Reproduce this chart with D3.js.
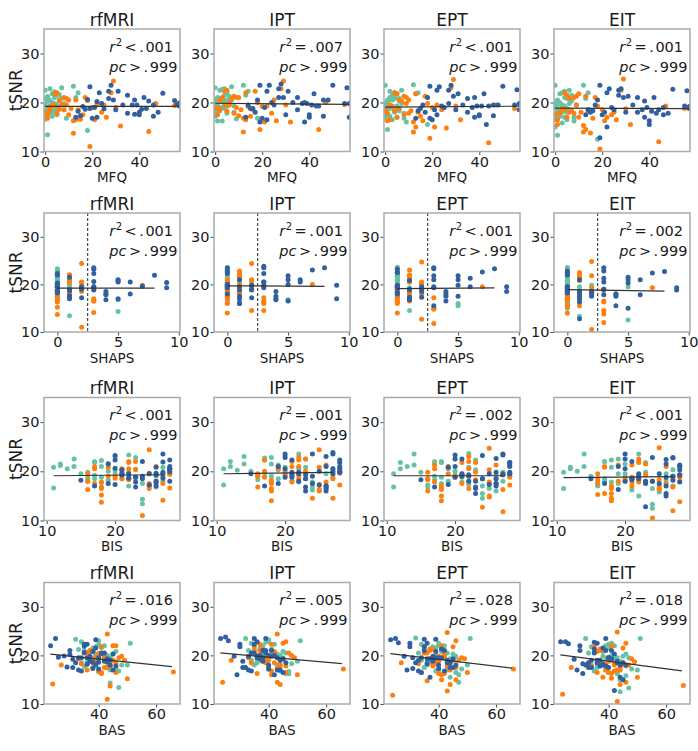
<!DOCTYPE html>
<html><head><meta charset="utf-8">
<script src="https://cdn.jsdelivr.net/npm/d3@7"></script>
<style>body{margin:0;background:#fff;} text{font-family:"DejaVu Sans",sans-serif;fill:#1a1a1a;}</style>
</head><body><svg id="c" width="698" height="751"></svg>
<script>
const tasks = ["rfMRI","IPT","EPT","EIT"];
const measures = ["MFQ","SHAPS","BIS","BAS"];
const xDomains = [[-0.5,57.3],[-1.1,10.1],[9.6,29.5],[21,68.3]];
const yDomain = [10,35];
const xTicks = [[0,20,40],[0,5,10],[10,20],[40,60]];
const yTicks = [10,20,30];
const r2Ops = [["<","=","<","="],["<","=","<","="],["<","=","=","<"],["=","=","=","="]];
const r2Nums = [["001","007","001","001"],["001","001","001","002"],["001","001","002","001"],["016","005","028","018"]];
const pcNum = "999";
const fitX = [[0,57],[0,8],[11,27],[23.2,65.5]];
const fitY = [
  [[19.2,19.2],[19.85,19.6],[19.05,19.25],[18.85,18.75]],
  [[19.2,19.2],[19.7,19.6],[19.1,19.25],[18.9,18.6]],
  [[19.1,19.3],[19.5,19.8],[19.1,19.1],[18.7,18.9]],
  [[20.25,17.7],[20.5,18.3],[20.35,17.4],[20.1,16.8]]
];
const shapsCutoff = 2.5;
// each subject: [MFQ, SHAPS, BIS, BAS, tSNR rfMRI, tSNR IPT, tSNR EPT, tSNR EIT]
const groupGreen = [
[0,0,11,38,20.8,20.5,19.5,19.8],[0,0,15,42,19.5,20.0,19.8,19.0],[0,1,19,36,18.2,18.5,18.0,17.5],
[0,0,22,44,17.0,17.8,17.3,15.0],[0,0,11,40,16.6,17.2,16.8,16.5],[1,1,24,47,13.4,16.2,14.5,13.3],
[1,0,12,33,21.2,21.0,20.5,20.5],[1,0,20,39,20.2,20.8,20.0,19.5],[1,0,26,45,19.0,19.5,19.3,18.2],
[1,1,18,35,17.7,18.0,17.5,16.8],[2,0,13,41,20.5,20.2,21.0,20.0],[2,0,21,37,19.3,19.0,18.8,18.5],
[2,0,16,48,18.0,18.3,17.2,17.2],[3,0,17,39,21.8,22.7,21.5,22.0],[3,1,19,43,20.0,20.3,20.5,19.5],
[3,0,17,34,18.5,19.0,19.0,18.0],[3,0,25,46,17.2,16.2,16.5,15.8],[4,0,18,40,22.2,22.8,22.0,22.3],
[4,1,14,37,21.0,21.5,21.3,21.0],[4,0,22,42,19.8,20.5,20.8,19.3],[4,0,27,50,18.0,18.8,18.0,17.0],
[5,0,12,38,21.5,22.0,21.8,20.8],[5,1,20,44,19.5,20.0,19.3,18.8],[5,0,16,36,18.6,19.3,18.5,18.0],
[6,0,19,41,21.6,21.3,20.8,22.5],[6,2,23,45,20.3,20.8,20.3,19.8],[6,0,17,38,19.2,19.8,18.3,18.5],
[7,0,20,40,23.0,23.2,22.5,21.5],[7,0,27,46,20.8,20.5,19.8,20.3],[8,1,16,39,19.8,19.3,16.8,17.0],
[8,0,21,43,18.5,18.0,17.8,16.2],[12,0,22,32,23.3,23.5,23.6,23.5],[13,0,18,35,21.0,21.5,21.8,20.8],
[14,1,17,42,22.0,22.3,22.0,22.0],[18,5,24,44,14.3,16.8,15.5,12.5],[9,5,26,47,16.8,16.7,16.0,19.5],
[0,0,14,51,22.5,23.0,23.5,23.5],[2,0,23,34,22.8,22.5,22.3,21.8],[1,0,18,37,18.8,19.0,18.8,17.8],
[5,0,24,43,17.5,17.8,17.0,16.5]
];
const groupOrange = [
[0,0,16,27,18.0,19.0,18.5,17.5],[1,0,18,40,16.8,17.5,16.3,16.5],[1,1,17,38,17.5,18.8,17.8,15.5],
[2,0,19,42,19.0,20.5,19.5,18.0],[2,1,22,34,18.3,18.5,16.5,17.8],[3,0,21,37,19.5,21.0,19.3,18.8],
[4,1,22,41,21.8,22.3,22.0,22.0],[4,0,16,33,19.3,19.5,18.3,18.5],[5,1,23,45,22.0,22.5,21.8,21.5],
[5,0,18,44,17.8,18.2,17.0,17.0],[6,0,20,39,18.6,19.5,18.8,18.0],[6,1,17,36,20.5,20.0,20.5,20.8],
[7,2,25,42,19.6,20.8,20.3,18.3],[8,1,26,38,21.0,21.3,21.3,21.0],[8,0,21,46,18.5,17.8,17.5,17.8],
[9,1,19,37,20.8,21.0,21.0,21.3],[9,0,16,40,19.5,19.0,19.8,19.5],[10,2,22,35,20.5,21.0,20.5,21.8],
[10,0,25,43,17.5,17.3,17.8,17.0],[11,1,23,39,18.8,18.5,18.3,18.0],[12,0,16,41,16.3,16.8,16.0,15.3],
[12,0,18,44,13.7,14.0,14.0,14.0],[13,3,18,46,16.5,16.5,15.0,14.5],[13,1,21,35,20.5,22.0,21.8,21.3],
[14,2,22,38,18.5,19.2,18.0,18.3],[15,3,28,66,16.6,17.2,17.2,13.8],[16,0,27,42,17.5,18.5,16.3,16.8],
[17,1,17,37,21.0,22.3,21.3,21.0],[18,2,23,40,20.4,20.0,19.8,19.3],[19,2,24,43,11.0,14.5,12.7,10.5],
[20,1,20,45,19.0,19.2,19.0,18.5],[21,3,25,41,16.5,16.0,15.0,16.3],[22,0,21,39,19.6,19.3,19.5,17.0],
[24,1,26,44,18.0,17.8,18.5,17.5],[25,0,28,47,19.5,20.5,19.0,18.0],[26,3,25,36,17.0,16.3,14.8,16.5],
[28,1,22,46,22.0,22.8,23.0,22.5],[29,2,25,43,24.4,24.4,24.7,24.8],[30,3,27,49,19.0,19.5,19.3,18.7],
[32,0,18,50,15.2,16.0,16.5,15.5],[44,3,27,24,14.1,14.5,11.8,12.0],[47,7,28,48,19.8,20.0,19.5,19.3],
[55,0,28,40,19.4,19.6,18.8,18.8]
];
const groupBlue = [
[13,1,17,33,17.0,17.0,16.8,17.5],[14,0,15,36,18.2,19.5,18.3,18.5],[15,1,20,38,17.3,18.8,18.8,18.0],
[16,2,21,31,19.2,18.8,19.5,18.3],[17,0,22,40,18.6,18.0,18.0,19.5],[18,3,20,35,20.6,20.5,21.0,20.5],
[19,3,20,39,23.2,23.5,23.3,23.5],[19,1,23,42,18.8,16.0,16.8,12.8],[20,4,23,34,16.8,16.8,16.5,17.5],
[21,2,24,44,19.0,19.0,18.5,18.0],[22,0,21,30,20.2,22.3,22.5,22.0],[22,5,26,45,17.0,16.5,17.5,15.0],
[24,0,27,37,19.8,20.0,19.3,19.0],[25,1,22,43,18.7,19.5,19.0,18.5],[27,5,26,38,20.8,21.0,19.8,21.5],
[27,0,20,36,22.3,22.8,22.5,22.5],[28,3,27,25,23.5,23.8,23.5,22.8],[29,6,28,41,20.5,21.0,21.3,21.0],
[30,4,24,32,18.5,17.5,18.5,18.0],[31,3,28,35,22.3,22.3,21.8,21.3],[33,0,25,40,19.5,20.0,19.5,19.5],
[35,4,23,46,17.8,18.5,18.0,18.0],[37,2,21,33,19.5,19.8,19.0,18.5],[38,5,28,42,20.5,20.0,21.0,20.3],
[38,1,26,29,17.6,16.0,17.0,17.0],[39,3,22,36,19.5,19.8,19.3,19.0],[40,4,26,44,18.0,17.0,17.5,15.5],
[40,1,19,31,17.5,17.5,17.3,16.3],[41,0,27,38,18.6,19.5,19.3,18.2],[42,5,28,30,21.0,21.8,21.8,21.0],
[43,3,23,37,18.8,19.3,15.5,17.8],[44,0,21,45,20.3,19.3,19.3,18.5],[46,2,25,40,17.2,17.2,17.3,17.5],
[46,3,27,34,19.5,20.5,19.5,19.0],[48,6,28,39,18.0,20.5,19.5,17.8],[50,8,27,35,21.9,23.5,23.3,22.7],
[55,9,28,41,20.4,19.8,19.5,19.3],[56,7,26,26,19.6,23.0,22.6,22.4],[57,9,26,43,19.3,17.0,18.5,18.8],
[57,0,28,28,19.9,19.8,19.8,19.2],[23,0,24,23.3,22.0,23.5,23.2,22.8],[35,1,19,39,21.5,21.0,20.8,21.0]
];
const groups = [groupGreen, groupOrange, groupBlue];
const groupColors = ["#66c2a5","#ff7f0e","#3060a0"];

const svg = d3.select("#c");
const colLeft = [44,214,384,554], rowTop = [29,213,397.5,582.5], rowH = [122.5,119,123,121.5], W = 136;

measures.forEach((m, r) => {
  tasks.forEach((t, c) => {
    const H = rowH[r];
    const g = svg.append("g").attr("transform", `translate(${colLeft[c]},${rowTop[r]})`);
    const x = d3.scaleLinear().domain(xDomains[r]).range([0, W]);
    const y = d3.scaleLinear().domain(yDomain).range([H, 0]);
    const cid = `clip${r}${c}`;
    g.append("clipPath").attr("id", cid).append("rect").attr("width", W).attr("height", H);
    const plot = g.append("g").attr("clip-path", `url(#${cid})`);
    groups.forEach((data, gi) => {
      plot.append("g").selectAll("circle").data(data).join("circle")
        .attr("cx", d => x(d[r])).attr("cy", d => y(d[4 + c]))
        .attr("r", 2.5).attr("fill", groupColors[gi]);
    });
    plot.append("line")
      .attr("x1", x(fitX[r][0])).attr("y1", y(fitY[r][c][0]))
      .attr("x2", x(fitX[r][1])).attr("y2", y(fitY[r][c][1]))
      .attr("stroke", "#333").attr("stroke-width", 1.2);
    if (m === "SHAPS") {
      plot.append("line").attr("x1", x(shapsCutoff)).attr("x2", x(shapsCutoff))
        .attr("y1", 0).attr("y2", H).attr("stroke", "#222").attr("stroke-width", 1)
        .attr("stroke-dasharray", "3,2");
    }
    const xa = g.append("g").attr("transform", `translate(0,${H})`)
      .call(d3.axisBottom(x).tickValues(xTicks[r]).tickSize(3.5).tickPadding(1.5).tickFormat(d3.format("d")));
    const ya = g.append("g")
      .call(d3.axisLeft(y).tickValues(yTicks).tickSize(3.5).tickPadding(1).tickFormat(d3.format("d")));
    [xa, ya].forEach(a => {
      a.select(".domain").remove();
      a.selectAll(".tick line").attr("stroke", "#333").attr("stroke-width", 0.9);
      a.selectAll(".tick text").attr("font-size", 14.5).attr("font-family", "DejaVu Sans").attr("fill", "#1a1a1a");
    });
    g.append("rect").attr("width", W).attr("height", H).attr("fill", "none")
      .attr("stroke", "#aaaaaa").attr("stroke-width", 1.5);
    g.append("text").attr("x", W / 2).attr("y", -3.5).attr("text-anchor", "middle")
      .attr("font-size", 17).text(t);
    g.append("text").attr("x", W / 2).attr("y", H + 30.5).attr("text-anchor", "middle")
      .attr("font-size", 13.5).text(m);
    if (c === 0) {
      svg.append("text").attr("transform", `translate(21.7,${rowTop[r] + H / 2}) rotate(-90)`)
        .attr("text-anchor", "middle").attr("font-size", 17).text("tSNR");
    }
    const t1 = g.append("text").attr("x", 0.48 * W).attr("y", 22.5).attr("font-size", 14.5);
    t1.append("tspan").attr("font-style", "italic").text("r");
    t1.append("tspan").attr("font-size", 10).attr("dy", -6).attr("dx", 0.5).text("2");
    t1.append("tspan").attr("dy", 6).attr("dx", 2.5).text(r2Ops[r][c]);
    t1.append("tspan").attr("dx", 2.5).text(".");
    t1.append("tspan").attr("dx", 1.5).text(r2Nums[r][c]);
    const t2 = g.append("text").attr("x", 0.48 * W).attr("y", 42.5).attr("font-size", 14.5);
    t2.append("tspan").attr("font-style", "italic").text("pc");
    t2.append("tspan").attr("dx", 2.5).text(">");
    t2.append("tspan").attr("dx", 2.5).text(".");
    t2.append("tspan").attr("dx", 1.5).text(pcNum);
  });
});
</script></body></html>
